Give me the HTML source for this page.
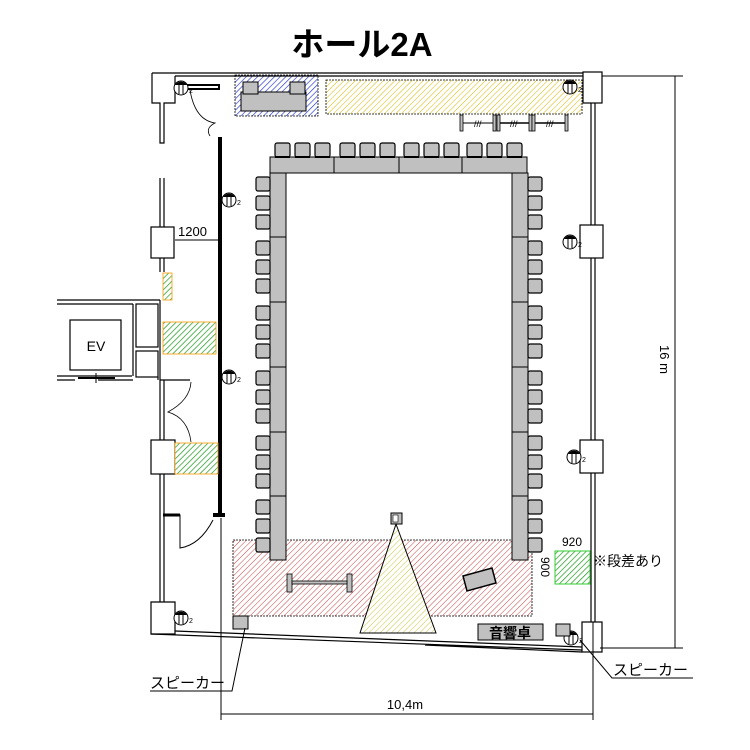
<!DOCTYPE html>
<html><head><meta charset="utf-8"><style>
html,body{margin:0;padding:0;background:#fff;}
svg{display:block;}
text{font-family:"Liberation Sans","Noto Sans CJK JP",sans-serif;}
</style></head><body>
<svg width="750" height="750" viewBox="0 0 750 750" xmlns="http://www.w3.org/2000/svg">
<defs>
<pattern id="hr" width="4" height="4" patternUnits="userSpaceOnUse" patternTransform="rotate(45)"><rect width="4" height="4" fill="#fff"/><line x1="0" y1="0" x2="0" y2="4" stroke="#c44" stroke-width="1"/></pattern>
<pattern id="hy" width="4" height="4" patternUnits="userSpaceOnUse" patternTransform="rotate(45)"><rect width="4" height="4" fill="#fff"/><line x1="0" y1="0" x2="0" y2="4" stroke="#d8b800" stroke-width="1"/></pattern>
<pattern id="hyy" width="4" height="4" patternUnits="userSpaceOnUse" patternTransform="rotate(45)"><rect width="4" height="4" fill="#fff"/><line x1="0" y1="0" x2="0" y2="4" stroke="#c8c840" stroke-width="1"/></pattern>
<pattern id="hb" width="4" height="4" patternUnits="userSpaceOnUse" patternTransform="rotate(45)"><rect width="4" height="4" fill="#fff"/><line x1="0" y1="0" x2="0" y2="4" stroke="#2233cc" stroke-width="1.3"/></pattern>
<pattern id="hg" width="4" height="4" patternUnits="userSpaceOnUse" patternTransform="rotate(45)"><rect width="4" height="4" fill="#fff"/><line x1="0" y1="0" x2="0" y2="4" stroke="#1a9a1a" stroke-width="1.4"/></pattern>
<g id="cT"><rect x="0" y="0" width="15" height="14" rx="2" fill="#c0c0c0" stroke="#000" stroke-width="1.2"/><line x1="0" y1="14" x2="15" y2="14" stroke="#000" stroke-width="2"/></g>
<g id="col"><circle cx="0" cy="0" r="7" fill="#fff" stroke="#000"/><path d="M-6,-3 A7,7 0 0 1 6,-3 Z" fill="#000"/><line x1="-2" y1="-3" x2="-2" y2="6" stroke="#000"/><line x1="2" y1="-3" x2="2" y2="6" stroke="#000"/><text x="8" y="5" font-size="7">2</text></g>
</defs>

<text x="362" y="56" font-size="33" font-weight="bold" text-anchor="middle">ホール2A</text>

<rect x="235" y="75" width="83" height="41" fill="url(#hb)" stroke="#000" stroke-dasharray="2,1" stroke-width="0.8"/>
<rect x="326" y="80" width="256" height="34" fill="url(#hy)" stroke="#000" stroke-dasharray="2,1" stroke-width="0.8"/>
<rect x="233" y="540" width="299" height="76" fill="url(#hr)" stroke="#000" stroke-dasharray="2,1" stroke-width="0.8"/>
<polygon points="396,524 360,633 436,633" fill="url(#hyy)" stroke="#000"/>
<rect x="391" y="513" width="11" height="11" fill="#c0c0c0" stroke="#000"/>
<rect x="393" y="515" width="5" height="7" fill="#fff" stroke="#000" stroke-width="0.6"/>

<rect x="241" y="92" width="65" height="19" fill="#c0c0c0" stroke="#000"/>
<rect x="243" y="82" width="15" height="12" fill="#c0c0c0" stroke="#000"/>
<rect x="290" y="82" width="15" height="12" fill="#c0c0c0" stroke="#000"/>

<g fill="#c0c0c0" stroke="#000" stroke-width="0.8">
<rect x="460" y="115" width="3" height="16"/><rect x="493" y="115" width="3" height="16"/><rect x="497" y="115" width="3" height="16"/><rect x="529" y="115" width="3" height="16"/><rect x="532" y="115" width="3" height="16"/><rect x="565" y="115" width="3" height="16"/></g>
<line x1="463" y1="123" x2="493" y2="123" stroke="#000"/><line x1="500" y1="123" x2="529" y2="123" stroke="#000" stroke-width="1.5"/><line x1="535" y1="123" x2="565" y2="123" stroke="#000" stroke-width="1.5"/>
<text x="474" y="127" font-size="9">///</text><text x="510" y="127" font-size="9">///</text><text x="546" y="127" font-size="9">///</text>

<g fill="#c0c0c0" stroke="#000" stroke-width="1">
<rect x="270" y="157" width="257" height="16"/>
<rect x="270" y="173" width="16" height="387"/>
<rect x="512" y="173" width="16" height="387"/>
</g>
<g stroke="#000"><line x1="334" y1="157" x2="334" y2="173"/><line x1="399" y1="157" x2="399" y2="173"/><line x1="462" y1="157" x2="462" y2="173"/>
<line x1="270" y1="237" x2="286" y2="237"/><line x1="270" y1="302" x2="286" y2="302"/><line x1="270" y1="367" x2="286" y2="367"/><line x1="270" y1="432" x2="286" y2="432"/><line x1="270" y1="496" x2="286" y2="496"/>
<line x1="512" y1="237" x2="528" y2="237"/><line x1="512" y1="302" x2="528" y2="302"/><line x1="512" y1="367" x2="528" y2="367"/><line x1="512" y1="432" x2="528" y2="432"/><line x1="512" y1="496" x2="528" y2="496"/></g>

<g>
<use href="#cT" x="275" y="143"/><use href="#cT" x="295" y="143"/><use href="#cT" x="315" y="143"/>
<use href="#cT" x="340" y="143"/><use href="#cT" x="360" y="143"/><use href="#cT" x="380" y="143"/>
<use href="#cT" x="404" y="143"/><use href="#cT" x="424" y="143"/><use href="#cT" x="444" y="143"/>
<use href="#cT" x="467" y="143"/><use href="#cT" x="487" y="143"/><use href="#cT" x="507" y="143"/>
</g>
<g fill="#c0c0c0" stroke="#000" stroke-width="1.2">
<rect x="256" y="177" width="14" height="14" rx="2"/><rect x="256" y="196" width="14" height="14" rx="2"/><rect x="256" y="215" width="14" height="14" rx="2"/>
<rect x="256" y="241" width="14" height="14" rx="2"/><rect x="256" y="260" width="14" height="14" rx="2"/><rect x="256" y="279" width="14" height="14" rx="2"/>
<rect x="256" y="306" width="14" height="14" rx="2"/><rect x="256" y="325" width="14" height="14" rx="2"/><rect x="256" y="344" width="14" height="14" rx="2"/>
<rect x="256" y="371" width="14" height="14" rx="2"/><rect x="256" y="390" width="14" height="14" rx="2"/><rect x="256" y="409" width="14" height="14" rx="2"/>
<rect x="256" y="436" width="14" height="14" rx="2"/><rect x="256" y="455" width="14" height="14" rx="2"/><rect x="256" y="474" width="14" height="14" rx="2"/>
<rect x="256" y="500" width="14" height="14" rx="2"/><rect x="256" y="519" width="14" height="14" rx="2"/><rect x="256" y="538" width="14" height="14" rx="2"/>
</g>
<g fill="#c0c0c0" stroke="#000" stroke-width="1.2">
<rect x="528" y="177" width="14" height="14" rx="2"/><rect x="528" y="196" width="14" height="14" rx="2"/><rect x="528" y="215" width="14" height="14" rx="2"/>
<rect x="528" y="241" width="14" height="14" rx="2"/><rect x="528" y="260" width="14" height="14" rx="2"/><rect x="528" y="279" width="14" height="14" rx="2"/>
<rect x="528" y="306" width="14" height="14" rx="2"/><rect x="528" y="325" width="14" height="14" rx="2"/><rect x="528" y="344" width="14" height="14" rx="2"/>
<rect x="528" y="371" width="14" height="14" rx="2"/><rect x="528" y="390" width="14" height="14" rx="2"/><rect x="528" y="409" width="14" height="14" rx="2"/>
<rect x="528" y="436" width="14" height="14" rx="2"/><rect x="528" y="455" width="14" height="14" rx="2"/><rect x="528" y="474" width="14" height="14" rx="2"/>
<rect x="528" y="500" width="14" height="14" rx="2"/><rect x="528" y="519" width="14" height="14" rx="2"/><rect x="528" y="538" width="14" height="14" rx="2"/>
</g>

<rect x="287" y="574" width="5" height="18" fill="#c0c0c0" stroke="#000" stroke-width="0.8"/>
<rect x="347" y="574" width="5" height="18" fill="#c0c0c0" stroke="#000" stroke-width="0.8"/>
<rect x="292" y="581" width="55" height="3" fill="#c0c0c0" stroke="#000" stroke-width="0.8"/>
<polygon points="463,576 492,568 496,583 467,591" fill="#c0c0c0" stroke="#000" stroke-width="1.5"/>

<rect x="218" y="137" width="4" height="378" fill="#000"/>
<rect x="213" y="513" width="12" height="4" fill="#000"/>

<g fill="none" stroke="#000" stroke-width="1.2">
<path d="M152,73 H583 M175,76 H583"/>
<path d="M152,73 V103 H160 V143 H164 V103 H175 V76"/>
<path d="M160,178 V227 M164,178 V227"/>
<rect x="151" y="227" width="23" height="31"/>
<path d="M160,258 V272 M164,258 V272"/>
<path d="M160,380 V440 M164,380 V440"/>
<rect x="151" y="440" width="24" height="34" fill="#fff"/>
<path d="M160,474 V602 M164,474 V602"/>
<path d="M151,602 H175 V634 H151 Z"/>
<path d="M151,634 L582,650 M175,631 L582,647 M582,652 L425,645"/>
<rect x="583" y="72" width="19" height="31"/>
<path d="M591,103 V225 M595,103 V225"/>
<rect x="580" y="225" width="23" height="33"/>
<path d="M591,258 V440 M595,258 V440"/>
<rect x="580" y="440" width="23" height="33" fill="#fff"/>
<path d="M591,473 V622 M595,473 V622"/>
<rect x="582" y="622" width="20" height="30"/>
</g>
<rect x="183" y="85" width="36" height="4" fill="#fff" stroke="#000" stroke-width="2"/>
<path d="M190,90 Q195,120 215,123 Q205,128 210,136" fill="none" stroke="#000" stroke-width="0.8"/>

<g fill="none" stroke="#000" stroke-width="1.2">
<path d="M57,300 H160 M57,304 H133 M57,380 H75 M98,380 H133 M57,376 H132"/>
<rect x="70" y="320" width="51" height="50"/>
<path d="M133,304 V376 M160,300 V380"/>
<rect x="136" y="304" width="22" height="43"/><rect x="136" y="351" width="22" height="26"/>
<path d="M160,380 H190 M158,377 V380"/>
</g>
<line x1="78" y1="378" x2="115" y2="378" stroke="#000" stroke-width="2"/><line x1="96" y1="373" x2="96" y2="383" stroke="#000"/>
<text x="96" y="351" font-size="14" text-anchor="middle">EV</text>
<path d="M191,382 Q190,400 168,412 Q188,418 191,442" fill="none" stroke="#000" stroke-width="0.8"/>
<rect x="163" y="273" width="9" height="27" fill="url(#hg)" stroke="#f90" stroke-width="0.8"/>
<rect x="163" y="322" width="53" height="32" fill="url(#hg)" stroke="#f90" stroke-width="0.8"/>
<rect x="175" y="443" width="43" height="31" fill="url(#hg)" stroke="#f90" stroke-width="0.8"/>
<path d="M176,515 H180 V548 Q200,545 213,520" fill="none" stroke="#000" stroke-width="1"/>
<line x1="163" y1="515" x2="180" y2="515" stroke="#000" stroke-width="3"/>

<line x1="175" y1="240" x2="218" y2="240" stroke="#000"/>
<text x="178" y="236" font-size="13">1200</text>

<use href="#col" x="181" y="88"/>
<use href="#col" x="229" y="200"/>
<use href="#col" x="229" y="377"/>
<use href="#col" x="181" y="618"/>
<use href="#col" x="570" y="87"/>
<use href="#col" x="570" y="242"/>
<use href="#col" x="574" y="457"/>
<use href="#col" x="571" y="638"/>

<rect x="555" y="551" width="35" height="33" fill="url(#hg)" stroke="#3c3" stroke-width="1"/>
<text x="562" y="546" font-size="12">920</text>
<text x="0" y="0" font-size="12" transform="translate(541,557) rotate(90)">900</text>
<text x="593" y="566" font-size="14">※段差あり</text>

<rect x="233" y="616" width="15" height="13" fill="#c0c0c0" stroke="#000"/>
<rect x="556" y="624" width="14" height="12" fill="#c0c0c0" stroke="#000"/>
<rect x="478" y="624" width="65" height="16" fill="#c0c0c0" stroke="#000"/>
<text x="510" y="638" font-size="14" text-anchor="middle" font-weight="bold">音響卓</text>
<path d="M245,628 L232,691 H150" fill="none" stroke="#000"/>
<text x="150" y="688" font-size="15">スピーカー</text>
<path d="M580,640 L612,678 H693" fill="none" stroke="#000"/>
<text x="613" y="675" font-size="15">スピーカー</text>

<g stroke="#000" stroke-width="1" fill="none">
<path d="M602,76 H683 M600,648 H683 M675,76 V648"/>
<path d="M221,518 V720 M593,622 V720 M221,714 H593"/>
</g>
<text x="0" y="0" font-size="13" transform="translate(660,345) rotate(90)">16 m</text>
<text x="405" y="709" font-size="13" text-anchor="middle">10,4m</text>
</svg>
</body></html>
